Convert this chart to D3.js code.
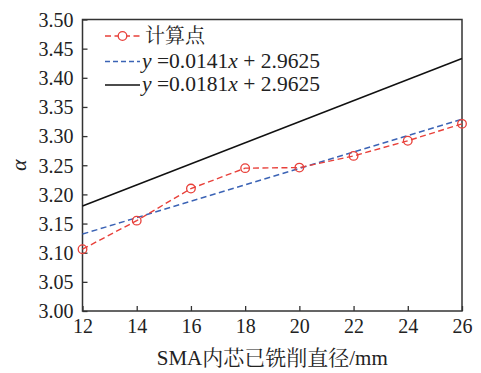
<!DOCTYPE html>
<html>
<head>
<meta charset="utf-8">
<script src="https://cdn.jsdelivr.net/npm/d3@7"></script>
</head>
<body style="margin:0">
<svg id="fig" width="481" height="373"></svg>
<script>
// values
const diameters = [12, 14, 16, 18, 20, 22, 24, 26];
const calcValues = [3.106, 3.155, 3.210, 3.245, 3.246, 3.266, 3.292, 3.321];
const fitX = [12, 26];
const fitBlue = [3.132, 3.329];   // y = 0.0141x + 2.9625
const fitBlack = [3.180, 3.433];  // y = 0.0181x + 2.9625
const yTicks = [3.00, 3.05, 3.10, 3.15, 3.20, 3.25, 3.30, 3.35, 3.40, 3.45, 3.50];
const xTicks = [12, 14, 16, 18, 20, 22, 24, 26];

const svg = d3.select('#fig');
const margin = { top: 19.5, right: 19, bottom: 62, left: 82.5 };
const width = 481, height = 373;
const serif = 'Liberation Serif';
const cjk = 'Noto Serif CJK SC';
const ink = '#222';

// set font both as attribute and inline style
const font = (sel, fam) => sel.attr('font-family', fam).style('font-family', `"${fam}"`);

const x = d3.scaleLinear().domain([12, 26]).range([margin.left, width - margin.right]);
const y = d3.scaleLinear().domain([3.0, 3.5]).range([height - margin.bottom, margin.top]);

const red = '#e8403a', blue = '#3b63b5', black = '#111';

// axes with inward ticks
const xAxis = svg.append('g')
  .attr('transform', `translate(0,${height - margin.bottom})`)
  .call(d3.axisBottom(x).tickValues(xTicks).tickSize(-5).tickPadding(8).tickFormat(d3.format('d')));
const yAxis = svg.append('g')
  .attr('transform', `translate(${margin.left},0)`)
  .call(d3.axisLeft(y).tickValues(yTicks).tickSize(-5).tickPadding(9).tickFormat(d3.format('.2f')));

[xAxis, yAxis].forEach(g => {
  font(g, serif).attr('font-size', 20);
  g.select('.domain').remove();
  g.selectAll('line').attr('stroke', '#333').attr('stroke-width', 1.3);
  g.selectAll('text').call(font, serif).style('font-size', '20px').attr('fill', ink);
});
yAxis.selectAll('text').attr('dy', '0.34em');

// frame
svg.append('rect')
  .attr('x', margin.left).attr('y', margin.top)
  .attr('width', x(26) - x(12)).attr('height', y(3.0) - y(3.5))
  .attr('fill', 'none').attr('stroke', '#333').attr('stroke-width', 1.5);

const line = d3.line().x(d => x(d[0])).y(d => y(d[1]));

svg.append('path')
  .datum(fitX.map((d, i) => [d, fitBlack[i]]))
  .attr('d', line).attr('fill', 'none').attr('stroke', black).attr('stroke-width', 1.5);

svg.append('path')
  .datum(fitX.map((d, i) => [d, fitBlue[i]]))
  .attr('d', line).attr('fill', 'none').attr('stroke', blue).attr('stroke-width', 1.4)
  .attr('stroke-dasharray', '6,3.5');

svg.append('path')
  .datum(diameters.map((d, i) => [d, calcValues[i]]))
  .attr('d', line).attr('fill', 'none').attr('stroke', red).attr('stroke-width', 1.4)
  .attr('stroke-dasharray', '6,3.5');

svg.selectAll('circle.pt')
  .data(diameters)
  .enter()
  .append('circle')
  .attr('class', 'pt')
  .attr('cx', d => x(d))
  .attr('cy', (d, i) => y(calcValues[i]))
  .attr('r', 4.3)
  .attr('fill', 'none')
  .attr('stroke', red)
  .attr('stroke-width', 1.3);

// legend
const legend = svg.append('g').attr('transform', 'translate(105,0)');
const rows = [
  { y: 36, color: red, dash: '6,3.5', marker: true, label: '计算点' },
  { y: 61.5, color: blue, dash: '5,3', marker: false, label: ['y', ' =0.0141', 'x', ' + 2.9625'] },
  { y: 85, color: black, dash: null, marker: false, label: ['y', ' =0.0181', 'x', ' + 2.9625'] }
];
rows.forEach(r => {
  legend.append('line')
    .attr('x1', 0).attr('x2', 35).attr('y1', r.y).attr('y2', r.y)
    .attr('stroke', r.color).attr('stroke-width', 1.4)
    .attr('stroke-dasharray', r.dash);
  if (r.marker) {
    legend.append('circle').attr('cx', 17.5).attr('cy', r.y).attr('r', 4.3)
      .attr('fill', '#fff').attr('stroke', r.color).attr('stroke-width', 1.3);
  }
  if (typeof r.label === 'string') {
    legend.append('text').attr('x', 40).attr('y', r.y + 7)
      .call(font, cjk).style('font-size', '20px').attr('fill', ink)
      .text(r.label);
  } else {
    const t = legend.append('text').attr('x', 37).attr('y', r.y + 6)
      .call(font, serif).style('font-size', '21.5px').attr('fill', ink)
      .attr('textLength', 178).attr('lengthAdjust', 'spacing');
    r.label.forEach((s, i) => {
      t.append('tspan').style('font-style', i % 2 === 0 ? 'italic' : 'normal').text(s);
    });
  }
});

// axis titles
svg.append('text')
  .attr('x', (margin.left + width - margin.right) / 2)
  .attr('y', 365)
  .attr('text-anchor', 'middle')
  .attr('fill', ink)
  .call(font, serif)
  .style('font-size', '21px')
  .call(t => {
    t.append('tspan').call(font, serif).text('SMA');
    t.append('tspan').call(font, cjk).text('内芯已铣削直径');
    t.append('tspan').call(font, serif).text('/mm');
  });

svg.append('text')
  .attr('transform', `translate(26,${y(3.25)}) rotate(-90)`)
  .attr('text-anchor', 'middle')
  .call(font, serif)
  .style('font-style', 'italic')
  .style('font-size', '22px')
  .attr('fill', ink)
  .text('α');
</script>
</body>
</html>
